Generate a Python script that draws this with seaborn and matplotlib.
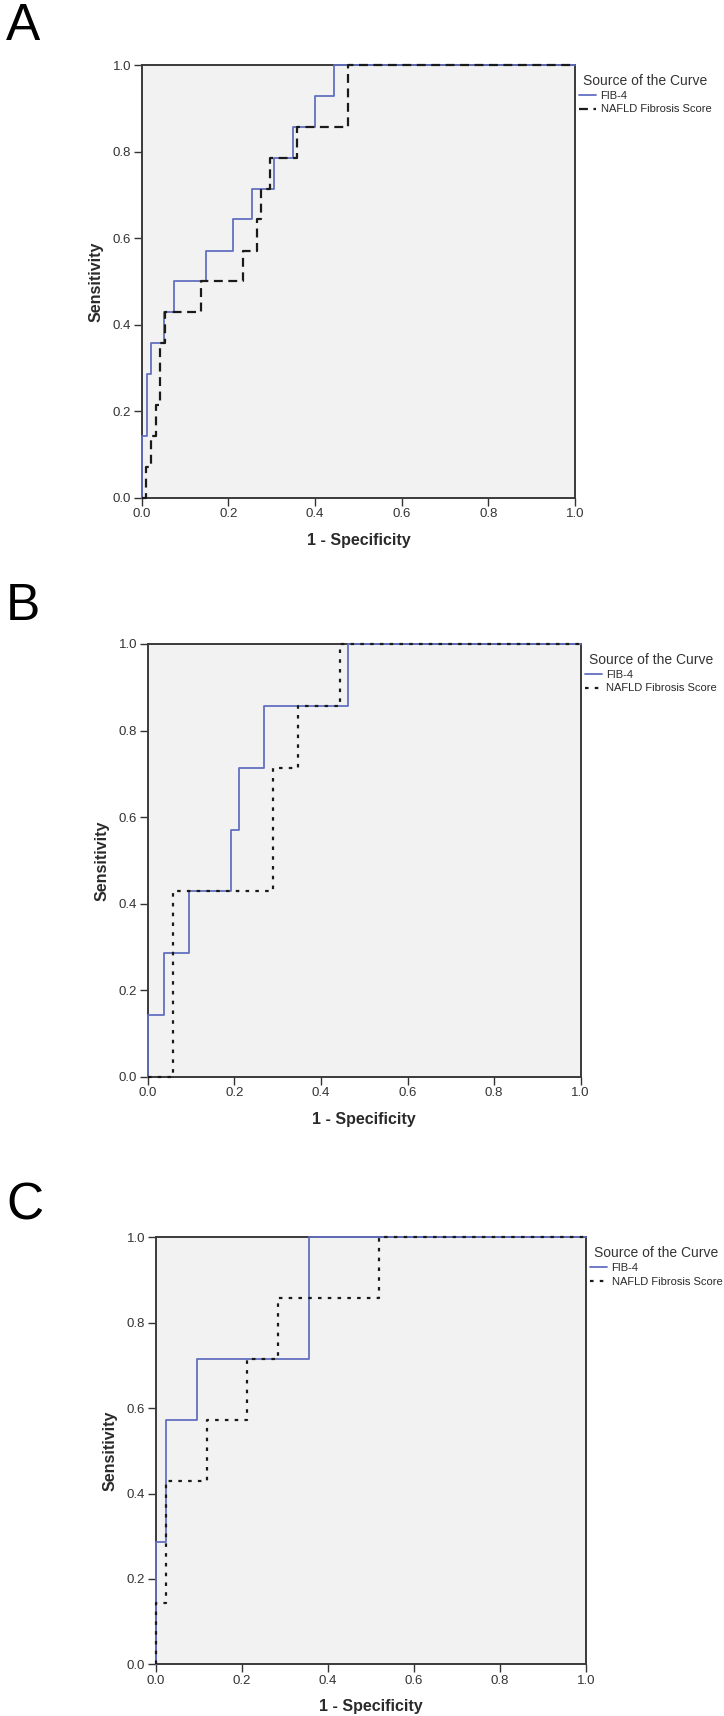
import numpy as np
import pandas as pd
import matplotlib
matplotlib.use("Agg")
import matplotlib.pyplot as plt
import seaborn as sns

sns.set_style("ticks")
plt.rcParams['font.family'] = ['Liberation Sans', 'DejaVu Sans']

# ROC corner points (1 - specificity, sensitivity)
fib4_a_fpr = [0.0, 0.0, 0.0115, 0.021, 0.051, 0.075, 0.149, 0.211, 0.254, 0.305, 0.349, 0.401, 0.444, 1.0]
fib4_a_tpr = [0.0, 0.143, 0.286, 0.357, 0.429, 0.5, 0.571, 0.643, 0.714, 0.786, 0.857, 0.929, 1.0, 1.0]
nfs_a_fpr = [0.0, 0.010, 0.021, 0.032, 0.042, 0.053, 0.137, 0.233, 0.265, 0.275, 0.296, 0.359, 0.475, 1.0]
nfs_a_tpr = [0.0, 0.071, 0.143, 0.214, 0.357, 0.429, 0.5, 0.571, 0.643, 0.714, 0.786, 0.857, 1.0, 1.0]

fib4_b_fpr = [0.0, 0.0, 0.038, 0.096, 0.192, 0.211, 0.269, 0.462, 1.0]
fib4_b_tpr = [0.0, 0.143, 0.286, 0.429, 0.571, 0.714, 0.857, 1.0, 1.0]
nfs_b_fpr = [0.0, 0.058, 0.289, 0.346, 0.443, 1.0]
nfs_b_tpr = [0.0, 0.429, 0.714, 0.857, 1.0, 1.0]

fib4_c_fpr = [0.0, 0.0, 0.024, 0.095, 0.357, 1.0]
fib4_c_tpr = [0.0, 0.286, 0.571, 0.714, 1.0, 1.0]
nfs_c_fpr = [0.0, 0.0, 0.024, 0.119, 0.213, 0.285, 0.52, 1.0]
nfs_c_tpr = [0.0, 0.143, 0.429, 0.571, 0.714, 0.857, 1.0, 1.0]

panel_names = ["A", "B", "C"]
series_names = ["FIB-4", "NAFLD Fibrosis Score"]
ticks = [0.0, 0.2, 0.4, 0.6, 0.8, 1.0]

blue = "#6270bf"
dark = "#2a2a2a"

fig = plt.figure(figsize=(7.24, 17.16), dpi=100)

boxes = [(141.7, 65.0, 575.0, 497.7),
         (147.7, 644.0, 580.7, 1076.7),
         (155.7, 1237.3, 586.0, 1664.3)]
label_y = [2, 582, 1182]
nfs_dash = [(4, 2.5), (1.6, 2.8), (1.6, 2.8)]

data = [(fib4_a_fpr, fib4_a_tpr, nfs_a_fpr, nfs_a_tpr),
        (fib4_b_fpr, fib4_b_tpr, nfs_b_fpr, nfs_b_tpr),
        (fib4_c_fpr, fib4_c_tpr, nfs_c_fpr, nfs_c_tpr)]

W, H = 724, 1716
for i, (l, t, r, b) in enumerate(boxes):
    ax = fig.add_axes([l / W, 1 - b / H, (r - l) / W, (b - t) / H])
    ax.set_facecolor("#f2f2f2")
    fx, fy, nx, ny = data[i]
    df1 = pd.DataFrame({"fpr": fx, "tpr": fy})
    df2 = pd.DataFrame({"fpr": nx, "tpr": ny})
    sns.lineplot(data=df1, x="fpr", y="tpr", ax=ax, estimator=None, sort=False,
                 drawstyle="steps-post", color=blue, lw=1.3, label=series_names[0],
                 clip_on=False, zorder=3)
    sns.lineplot(data=df2, x="fpr", y="tpr", ax=ax, estimator=None, sort=False,
                 drawstyle="steps-post", color="#1a1a1a", lw=1.6, label=series_names[1],
                 dashes=False, clip_on=False, zorder=4)
    ax.lines[-1].set_dashes(nfs_dash[i])
    ax.set_xlim(0, 1)
    ax.set_ylim(0, 1)
    ax.set_xticks(ticks)
    ax.set_yticks(ticks)
    ax.set_xticklabels(["%.1f" % v for v in ticks])
    ax.set_yticklabels(["%.1f" % v for v in ticks])
    ax.tick_params(length=6, width=1, colors="#333333", labelsize=9.5, pad=1.5)
    for s in ax.spines.values():
        s.set_color("#3a3a3a")
        s.set_linewidth(1.4)
    ax.set_xlabel("1 - Specificity", fontsize=11.5, fontweight="bold", color=dark, labelpad=9)
    ax.set_ylabel("Sensitivity", fontsize=11.5, fontweight="bold", color=dark, labelpad=7)
    leg = ax.legend(loc="upper left", bbox_to_anchor=(1.0, 0.99), frameon=False,
                    title="Source of the Curve", fontsize=8, title_fontsize=10,
                    handlelength=1.5, handletextpad=0.4, borderaxespad=0.1,
                    labelspacing=0.3, borderpad=0.3)
    leg.get_title().set_color("#333333")
    for txt in leg.get_texts():
        txt.set_color(dark)
    fig.text(6 / W, 1 - label_y[i] / H, panel_names[i], fontsize=37, va="top", ha="left", color="black")

fig.savefig("out.png", dpi=100, facecolor="white")
